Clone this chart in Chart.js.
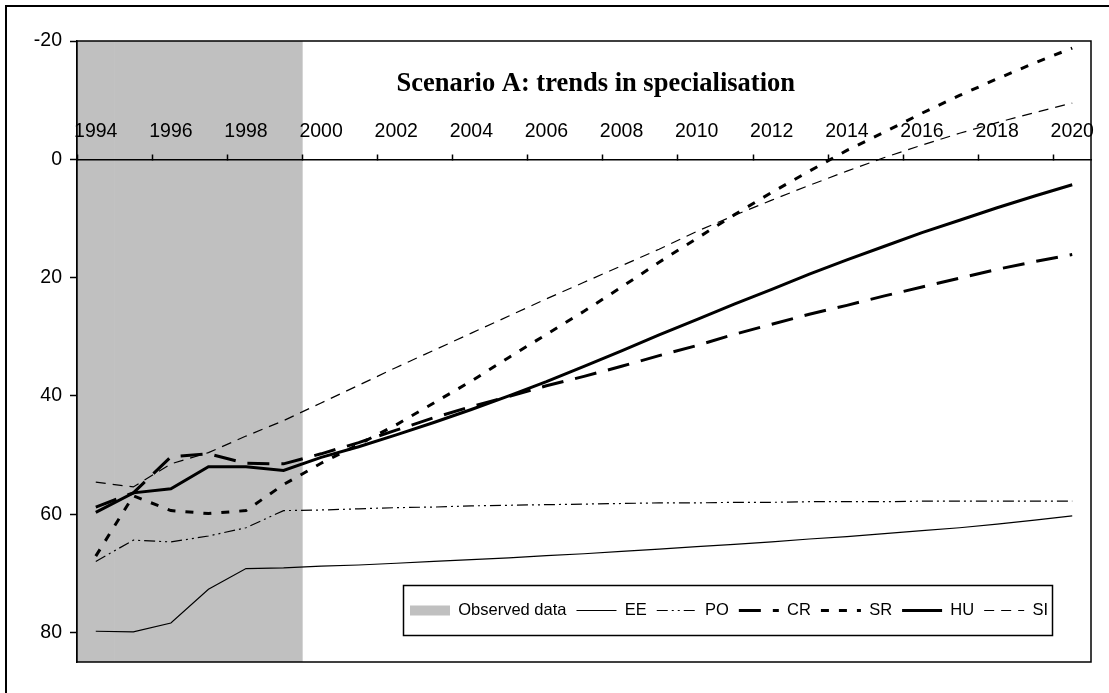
<!DOCTYPE html>
<html>
<head>
<meta charset="utf-8">
<script src="https://cdn.jsdelivr.net/npm/chart.js@4.4.1/dist/chart.umd.min.js"></script>
<style>
  html, body { margin: 0; padding: 0; background: #fff; }
  canvas { display: block; }
</style>
</head>
<body>
<canvas id="chart" width="1109" height="693"></canvas>
<script>
// ---------- data ----------
const years = ['1994','1995','1996','1997','1998','1999','2000','2001','2002','2003','2004','2005','2006','2007',
               '2008','2009','2010','2011','2012','2013','2014','2015','2016','2017','2018','2019','2020'];
const observedFlag = [1,1,1,1,1,1,0,0,0,0,0,0,0,0,0,0,0,0,0,0,0,0,0,0,0,0,0];
const EE = [79.8,79.9,78.4,72.7,69.2,69.1,68.8,68.6,68.3,68.0,67.7,67.4,67.0,66.7,66.3,65.9,65.5,65.1,64.7,64.2,63.8,63.3,62.8,62.3,61.7,61.0,60.3];
const PO = [68.0,64.4,64.7,63.7,62.3,59.4,59.3,59.1,58.9,58.8,58.6,58.5,58.4,58.3,58.2,58.1,58.1,58.0,58.0,57.9,57.9,57.9,57.8,57.8,57.8,57.8,57.8];
const CR = [58.8,56.4,50.3,49.8,51.4,51.5,49.8,47.9,45.8,43.7,41.8,40.1,38.3,36.7,35.0,33.2,31.5,29.6,27.9,26.2,24.7,23.1,21.6,20.1,18.6,17.3,16.1];
const SR = [67.1,56.9,59.4,59.9,59.4,55.0,51.4,48.2,44.9,41.2,37.5,33.5,29.6,25.7,21.6,17.4,13.4,9.4,5.6,2.0,-1.5,-4.6,-7.8,-10.8,-13.6,-16.3,-18.8];
const HU = [59.7,56.4,55.7,52.0,52.0,52.6,50.4,48.6,46.6,44.5,42.3,40.0,37.6,35.0,32.4,29.7,27.1,24.5,22.0,19.4,17.0,14.7,12.4,10.3,8.2,6.2,4.3];
const SI = [54.6,55.4,51.5,49.6,46.8,44.2,41.2,38.2,35.2,32.3,29.4,26.5,23.6,20.8,18.0,15.2,12.2,9.5,6.9,4.4,2.0,-0.3,-2.4,-4.4,-6.2,-7.9,-9.5];
const yTicks = [-20, 0, 20, 40, 60, 80];
const Y_MIN = -20, Y_MAX = 85;
const titleText = 'Scenario A: trends in specialisation';
const observedLabel = 'Observed data';

// ---------- styles ----------
const SANS = 'Liberation Sans';
const lineStyles = {
  EE: {w: 1.2, dash: []},
  PO: {w: 1.2, dash: [11, 4, 2, 4, 2, 4]},
  CR: {w: 3, dash: [22, 12]},
  SR: {w: 3, dash: [8, 10]},
  HU: {w: 3, dash: []},
  SI: {w: 1.2, dash: [10, 7]}
};
const seriesList = [['EE', EE], ['PO', PO], ['CR', CR], ['SR', SR], ['HU', HU], ['SI', SI]];

const datasets = [{
  type: 'bar',
  label: observedLabel,
  data: observedFlag.map(f => f ? [Y_MIN, Y_MAX] : null),
  backgroundColor: '#c0c0c0',
  borderWidth: 0,
  barPercentage: 1,
  categoryPercentage: 1,
  order: 1
}].concat(seriesList.map(([name, vals]) => ({
  type: 'line',
  label: name,
  data: vals,
  borderColor: '#000',
  backgroundColor: '#000',
  borderWidth: lineStyles[name].w,
  borderDash: lineStyles[name].dash,
  borderCapStyle: 'butt',
  pointRadius: 0,
  pointHoverRadius: 0,
  tension: 0,
  fill: false,
  order: 0
})));

// ---------- plugins ----------
const LEGEND_POS = {left: 400, top: 592.25};
const LEGEND_BOX = {left: 403.5, top: 585.5, right: 1052.5, bottom: 635.5};

const decor = {
  id: 'decor',
  beforeDraw(chart) {
    const ctx = chart.ctx;
    ctx.save();
    ctx.fillStyle = '#fff';
    ctx.fillRect(0, 0, chart.width, chart.height);
    ctx.strokeStyle = '#000';
    ctx.lineWidth = 2;
    ctx.strokeRect(6, 6, chart.width + 20, chart.height + 20);
    ctx.restore();
  },
  afterLayout(chart) {
    const lg = chart.legend;
    if (!lg) return;
    const w = lg.width, h = lg.height;
    lg.left = LEGEND_POS.left; lg.top = LEGEND_POS.top;
    lg.right = lg.left + w; lg.bottom = lg.top + h;
  },
  afterDraw(chart) {
    const {ctx, chartArea: a} = chart;
    ctx.save();
    ctx.strokeStyle = '#000';
    ctx.lineWidth = 1.5;
    ctx.strokeRect(a.left, a.top, a.right - a.left, a.bottom - a.top);
    ctx.strokeRect(LEGEND_BOX.left, LEGEND_BOX.top, LEGEND_BOX.right - LEGEND_BOX.left, LEGEND_BOX.bottom - LEGEND_BOX.top);
    ctx.fillStyle = '#000';
    ctx.font = 'bold 26.5px "Liberation Serif"';
    ctx.textAlign = 'center';
    ctx.textBaseline = 'alphabetic';
    ctx.fillText(titleText, a.left + (a.right - a.left) * 0.5116, a.top + 49.7);
    ctx.restore();
  }
};

Chart.defaults.font.family = SANS;
Chart.defaults.color = '#000';

new Chart(document.getElementById('chart'), {
  type: 'line',
  data: { labels: years, datasets },
  plugins: [decor],
  options: {
    responsive: false,
    animation: false,
    events: [],
    layout: { padding: { left: 0, right: 18, top: 4.5, bottom: 31 } },
    plugins: {
      tooltip: { enabled: false },
      title: { display: false },
      legend: {
        display: true,
        position: 'top',
        align: 'start',
        labels: {
          usePointStyle: true,
          pointStyleWidth: 40,
          boxWidth: 40,
          boxHeight: 10,
          padding: 10,
          color: '#000',
          font: { family: SANS, size: 16.5 },
          generateLabels(chart) {
            return chart.data.datasets.map((ds, i) => ({
              text: ds.label,
              fillStyle: ds.type === 'bar' ? ds.backgroundColor : 'rgba(0,0,0,0)',
              strokeStyle: ds.type === 'bar' ? 'rgba(0,0,0,0)' : ds.borderColor,
              lineWidth: ds.type === 'bar' ? 0 : ds.borderWidth,
              lineDash: ds.type === 'bar' ? [] : ds.borderDash,
              lineCap: 'butt',
              pointStyle: ds.type === 'bar' ? 'rect' : 'line',
              hidden: false,
              fontColor: '#000',
              datasetIndex: i
            }));
          }
        }
      }
    },
    scales: {
      x: {
        type: 'category',
        offset: true,
        position: { y: 0 },
        border: { display: true, color: '#000', width: 1.5, z: 1 },
        grid: {
          display: true,
          offset: true,
          drawOnChartArea: false,
          drawTicks: true,
          tickLength: -6,
          tickWidth: 1.5,
          z: 1,
          tickColor: (c) => (c.index !== undefined && c.index % 2 === 0) ? '#000' : 'rgba(0,0,0,0)'
        },
        ticks: {
          autoSkip: false,
          maxRotation: 0,
          minRotation: 0,
          padding: -33.7,
          z: 1,
          color: '#000',
          font: { family: SANS, size: 19.5 },
          callback: function (value, index) { return index % 2 === 0 ? this.getLabelForValue(value) : ''; }
        }
      },
      y: {
        type: 'linear',
        reverse: true,
        min: Y_MIN,
        max: Y_MAX,
        afterBuildTicks: (s) => { s.ticks = yTicks.map(v => ({ value: v })); },
        afterFit: (s) => { s.width = 77; },
        border: { display: true, color: '#000', width: 1.5 },
        grid: { drawOnChartArea: false, drawTicks: true, tickLength: 7, tickColor: '#000', tickWidth: 1.5 },
        ticks: { padding: 8, color: '#000', font: { family: SANS, size: 19.5 } }
      }
    }
  }
});
</script>
</body>
</html>
